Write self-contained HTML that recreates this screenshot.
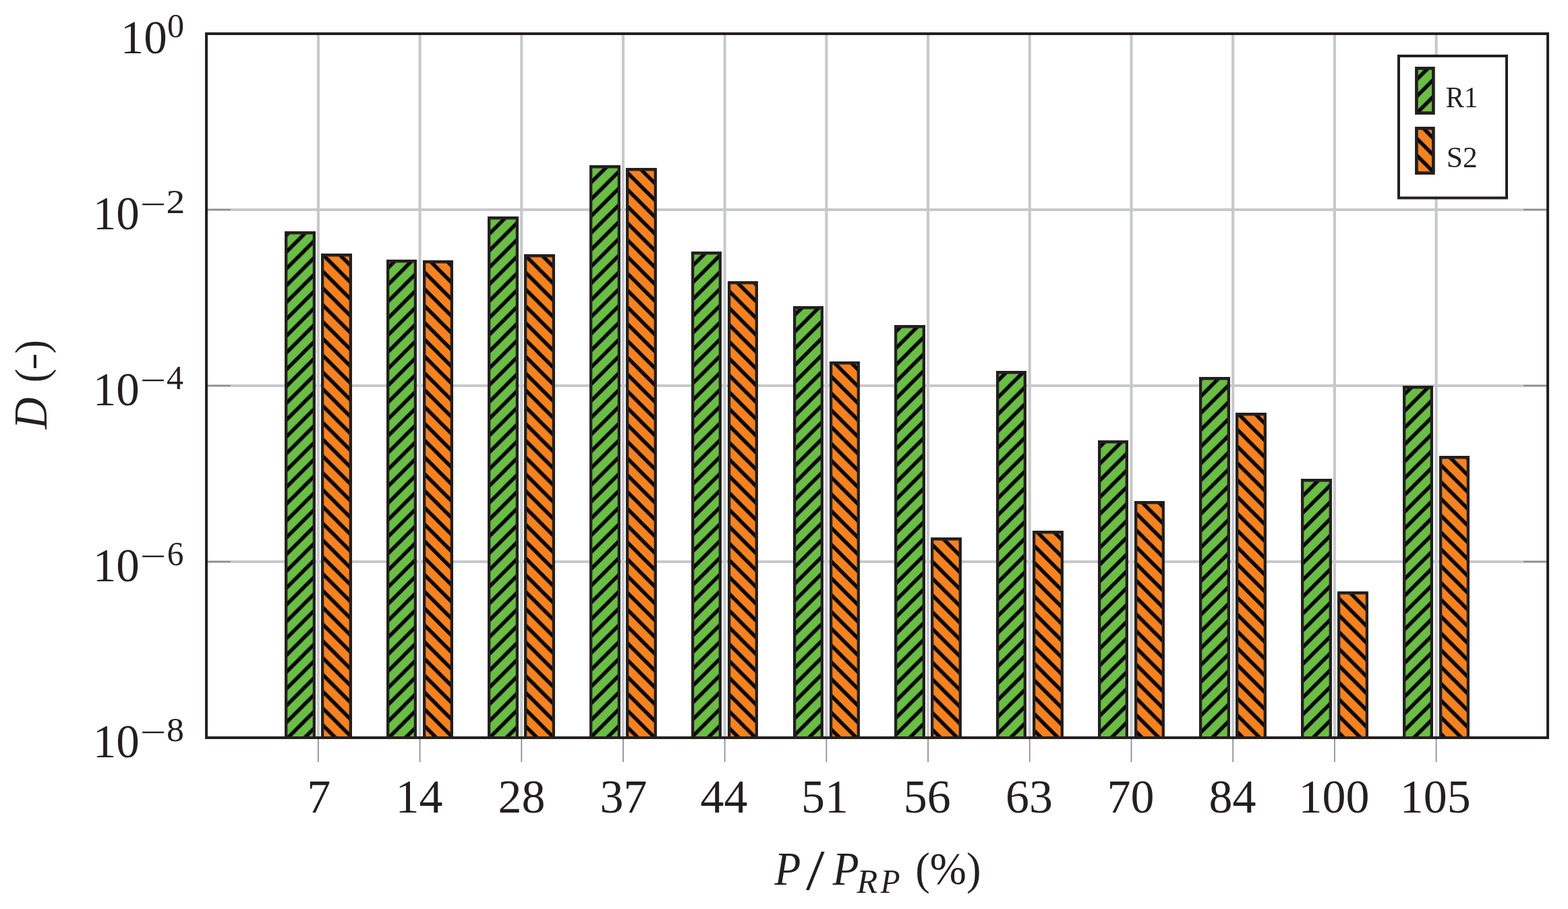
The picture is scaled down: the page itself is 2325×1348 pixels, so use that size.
<!DOCTYPE html>
<html lang="en"><head><meta charset="utf-8"><title>D versus P / P_RP</title>
<style>html,body{margin:0;padding:0;background:#fff}body{width:2325px;height:1348px;overflow:hidden}svg{display:block}text{font-family:"Liberation Serif","DejaVu Serif",serif;fill:#231f20}.it{font-style:italic}</style></head><body>
<svg width="2325" height="1348" viewBox="0 0 2325 1348">
<defs>
<pattern id="hg" patternUnits="userSpaceOnUse" x="1.100" y="-0.300" width="24.920" height="24.920">
<rect width="24.920" height="24.920" fill="#6abd45"/>
<path d="M-6.500 31.420 L31.420 -6.500 M-6.500 6.500 L6.500 -6.500 M18.420 31.420 L31.420 18.420" stroke="#050505" stroke-width="5.50" fill="none"/>
</pattern>
<pattern id="ho" patternUnits="userSpaceOnUse" x="1.100" y="-0.300" width="24.920" height="24.920">
<rect width="24.920" height="24.920" fill="#f58220"/>
<path d="M-6.500 -6.500 L31.420 31.420 M18.420 -6.500 L31.420 6.500 M-6.500 18.420 L6.500 31.420" stroke="#050505" stroke-width="5.50" fill="none"/>
</pattern>
</defs>
<rect width="2325" height="1348" fill="#fff"/>
<g stroke="#c7c8ca" stroke-width="4.1" fill="none">
<line x1="471.90" y1="50" x2="471.90" y2="1094"/>
<line x1="622.60" y1="50" x2="622.60" y2="1094"/>
<line x1="773.30" y1="50" x2="773.30" y2="1094"/>
<line x1="924.00" y1="50" x2="924.00" y2="1094"/>
<line x1="1074.70" y1="50" x2="1074.70" y2="1094"/>
<line x1="1225.40" y1="50" x2="1225.40" y2="1094"/>
<line x1="1376.10" y1="50" x2="1376.10" y2="1094"/>
<line x1="1526.80" y1="50" x2="1526.80" y2="1094"/>
<line x1="1677.50" y1="50" x2="1677.50" y2="1094"/>
<line x1="1828.20" y1="50" x2="1828.20" y2="1094"/>
<line x1="1978.90" y1="50" x2="1978.90" y2="1094"/>
<line x1="2129.60" y1="50" x2="2129.60" y2="1094"/>
<line x1="306" y1="311.00" x2="2295" y2="311.00"/>
<line x1="306" y1="572.00" x2="2295" y2="572.00"/>
<line x1="306" y1="833.00" x2="2295" y2="833.00"/>
</g>
<g stroke="#8e9093" stroke-width="1.8" fill="none">
<line x1="471.90" y1="1094" x2="471.90" y2="1130"/>
<line x1="622.60" y1="1094" x2="622.60" y2="1130"/>
<line x1="773.30" y1="1094" x2="773.30" y2="1130"/>
<line x1="924.00" y1="1094" x2="924.00" y2="1130"/>
<line x1="1074.70" y1="1094" x2="1074.70" y2="1130"/>
<line x1="1225.40" y1="1094" x2="1225.40" y2="1130"/>
<line x1="1376.10" y1="1094" x2="1376.10" y2="1130"/>
<line x1="1526.80" y1="1094" x2="1526.80" y2="1130"/>
<line x1="1677.50" y1="1094" x2="1677.50" y2="1130"/>
<line x1="1828.20" y1="1094" x2="1828.20" y2="1130"/>
<line x1="1978.90" y1="1094" x2="1978.90" y2="1130"/>
<line x1="2129.60" y1="1094" x2="2129.60" y2="1130"/>
<line x1="306" y1="311.00" x2="342" y2="311.00"/>
<line x1="2259" y1="311.00" x2="2295" y2="311.00"/>
<line x1="306" y1="572.00" x2="342" y2="572.00"/>
<line x1="2259" y1="572.00" x2="2295" y2="572.00"/>
<line x1="306" y1="833.00" x2="342" y2="833.00"/>
<line x1="2259" y1="833.00" x2="2295" y2="833.00"/>
</g>
<rect x="423.00" y="344.00" width="44.00" height="750.00" fill="url(#hg)"/>
<path fill="#231f20" d="M422.00 343.00H468.00V1094H463.70V347.60H426.30V1094H422.00Z"/>
<rect x="477.00" y="377.00" width="44.00" height="717.00" fill="url(#ho)"/>
<path fill="#231f20" d="M476.00 376.00H522.00V1094H517.70V380.60H480.30V1094H476.00Z"/>
<rect x="574.00" y="386.00" width="43.00" height="708.00" fill="url(#hg)"/>
<path fill="#231f20" d="M573.00 385.00H618.00V1094H613.70V389.60H577.30V1094H573.00Z"/>
<rect x="628.00" y="387.00" width="43.00" height="707.00" fill="url(#ho)"/>
<path fill="#231f20" d="M627.00 386.00H672.00V1094H667.70V390.60H631.30V1094H627.00Z"/>
<rect x="724.00" y="322.00" width="44.00" height="772.00" fill="url(#hg)"/>
<path fill="#231f20" d="M723.00 321.00H769.00V1094H764.70V325.60H727.30V1094H723.00Z"/>
<rect x="778.00" y="378.00" width="44.00" height="716.00" fill="url(#ho)"/>
<path fill="#231f20" d="M777.00 377.00H823.00V1094H818.70V381.60H781.30V1094H777.00Z"/>
<rect x="875.00" y="246.00" width="44.00" height="848.00" fill="url(#hg)"/>
<path fill="#231f20" d="M874.00 245.00H920.00V1094H915.70V249.60H878.30V1094H874.00Z"/>
<rect x="929.00" y="250.00" width="44.00" height="844.00" fill="url(#ho)"/>
<path fill="#231f20" d="M928.00 249.00H974.00V1094H969.70V253.60H932.30V1094H928.00Z"/>
<rect x="1026.00" y="374.00" width="43.00" height="720.00" fill="url(#hg)"/>
<path fill="#231f20" d="M1025.00 373.00H1070.00V1094H1065.70V377.60H1029.30V1094H1025.00Z"/>
<rect x="1080.00" y="418.00" width="43.00" height="676.00" fill="url(#ho)"/>
<path fill="#231f20" d="M1079.00 417.00H1124.00V1094H1119.70V421.60H1083.30V1094H1079.00Z"/>
<rect x="1177.00" y="455.00" width="43.00" height="639.00" fill="url(#hg)"/>
<path fill="#231f20" d="M1176.00 454.00H1221.00V1094H1216.70V458.60H1180.30V1094H1176.00Z"/>
<rect x="1231.00" y="537.00" width="43.00" height="557.00" fill="url(#ho)"/>
<path fill="#231f20" d="M1230.00 536.00H1275.00V1094H1270.70V540.60H1234.30V1094H1230.00Z"/>
<rect x="1327.00" y="483.00" width="44.00" height="611.00" fill="url(#hg)"/>
<path fill="#231f20" d="M1326.00 482.00H1372.00V1094H1367.70V486.60H1330.30V1094H1326.00Z"/>
<rect x="1381.00" y="798.00" width="44.00" height="296.00" fill="url(#ho)"/>
<path fill="#231f20" d="M1380.00 797.00H1426.00V1094H1421.70V801.60H1384.30V1094H1380.00Z"/>
<rect x="1478.00" y="551.00" width="43.00" height="543.00" fill="url(#hg)"/>
<path fill="#231f20" d="M1477.00 550.00H1522.00V1094H1517.70V554.60H1481.30V1094H1477.00Z"/>
<rect x="1532.00" y="788.00" width="44.00" height="306.00" fill="url(#ho)"/>
<path fill="#231f20" d="M1531.00 787.00H1577.00V1094H1572.70V791.60H1535.30V1094H1531.00Z"/>
<rect x="1629.00" y="654.00" width="43.00" height="440.00" fill="url(#hg)"/>
<path fill="#231f20" d="M1628.00 653.00H1673.00V1094H1668.70V657.60H1632.30V1094H1628.00Z"/>
<rect x="1683.00" y="744.00" width="43.00" height="350.00" fill="url(#ho)"/>
<path fill="#231f20" d="M1682.00 743.00H1727.00V1094H1722.70V747.60H1686.30V1094H1682.00Z"/>
<rect x="1779.00" y="560.00" width="44.00" height="534.00" fill="url(#hg)"/>
<path fill="#231f20" d="M1778.00 559.00H1824.00V1094H1819.70V563.60H1782.30V1094H1778.00Z"/>
<rect x="1833.00" y="613.00" width="44.00" height="481.00" fill="url(#ho)"/>
<path fill="#231f20" d="M1832.00 612.00H1878.00V1094H1873.70V616.60H1836.30V1094H1832.00Z"/>
<rect x="1930.00" y="711.00" width="44.00" height="383.00" fill="url(#hg)"/>
<path fill="#231f20" d="M1929.00 710.00H1975.00V1094H1970.70V714.60H1933.30V1094H1929.00Z"/>
<rect x="1984.00" y="878.00" width="44.00" height="216.00" fill="url(#ho)"/>
<path fill="#231f20" d="M1983.00 877.00H2029.00V1094H2024.70V881.60H1987.30V1094H1983.00Z"/>
<rect x="2081.00" y="573.00" width="43.00" height="521.00" fill="url(#hg)"/>
<path fill="#231f20" d="M2080.00 572.00H2125.00V1094H2120.70V576.60H2084.30V1094H2080.00Z"/>
<rect x="2135.00" y="677.00" width="43.00" height="417.00" fill="url(#ho)"/>
<path fill="#231f20" d="M2134.00 676.00H2179.00V1094H2174.70V680.60H2138.30V1094H2134.00Z"/>
<rect x="306" y="50" width="1989" height="1044" fill="none" stroke="#231f20" stroke-width="4"/>
<rect x="2074" y="83" width="160" height="210.5" fill="#fff" stroke="#231f20" stroke-width="4"/>
<rect x="2100.4" y="101.3" width="25" height="66.3" fill="url(#hg)" stroke="#231f20" stroke-width="4.7"/>
<rect x="2100.4" y="190.3" width="25" height="66.3" fill="url(#ho)" stroke="#231f20" stroke-width="4.7"/>
<text transform="translate(2143.80 159.00) scale(0.9270 1)" font-size="44">R1</text>
<text transform="translate(2144.80 247.70) scale(0.9890 1)" font-size="44">S2</text>
<text transform="translate(178.72 79.00) scale(0.9870 1)" font-size="70">10</text>
<text transform="translate(247.90 55.10) scale(0.9924 1)" font-size="50.5">0</text>
<text transform="translate(137.72 340.00) scale(0.9870 1)" font-size="70">10</text>
<text transform="translate(207.50 318.90) scale(1.4230 1)" font-size="48">−</text>
<text transform="translate(246.58 316.10) scale(1.1001 1)" font-size="50.5">2</text>
<text transform="translate(137.72 601.00) scale(0.9870 1)" font-size="70">10</text>
<text transform="translate(207.50 579.90) scale(1.4230 1)" font-size="48">−</text>
<text transform="translate(247.06 577.10) scale(0.9918 1)" font-size="50.5">4</text>
<text transform="translate(137.72 862.00) scale(0.9870 1)" font-size="70">10</text>
<text transform="translate(207.50 840.90) scale(1.4230 1)" font-size="48">−</text>
<text transform="translate(247.82 838.10) scale(0.9786 1)" font-size="50.5">6</text>
<text transform="translate(137.72 1123.00) scale(0.9870 1)" font-size="70">10</text>
<text transform="translate(207.50 1101.90) scale(1.4230 1)" font-size="48">−</text>
<text transform="translate(247.10 1099.10) scale(1.0265 1)" font-size="50.5">8</text>
<text transform="translate(472.80 1204.50)" font-size="70" text-anchor="middle">7</text>
<text transform="translate(621.40 1204.50)" font-size="70" text-anchor="middle">14</text>
<text transform="translate(773.50 1204.50)" font-size="70" text-anchor="middle">28</text>
<text transform="translate(924.60 1204.50)" font-size="70" text-anchor="middle">37</text>
<text transform="translate(1073.50 1204.50)" font-size="70" text-anchor="middle">44</text>
<text transform="translate(1223.00 1204.50)" font-size="70" text-anchor="middle">51</text>
<text transform="translate(1374.70 1204.50)" font-size="70" text-anchor="middle">56</text>
<text transform="translate(1526.10 1204.50)" font-size="70" text-anchor="middle">63</text>
<text transform="translate(1676.40 1204.50)" font-size="70" text-anchor="middle">70</text>
<text transform="translate(1827.40 1204.50)" font-size="70" text-anchor="middle">84</text>
<text transform="translate(1978.00 1204.50)" font-size="70" text-anchor="middle">100</text>
<text transform="translate(2128.30 1204.50)" font-size="70" text-anchor="middle">105</text>
<text transform="translate(1148.40 1311.70) scale(0.9100 1)" font-size="70" class="it">P</text>
<text transform="translate(1195.10 1318.50) scale(1.1770 1)" font-size="84.7">/</text>
<text transform="translate(1234.70 1311.70) scale(0.9100 1)" font-size="70" class="it">P</text>
<text transform="translate(1270.45 1323.80) scale(0.9770 1)" font-size="51.7" class="it">R</text>
<text transform="translate(1305.74 1323.80) scale(0.9130 1)" font-size="51.7" class="it">P</text>
<text transform="translate(1357.20 1311.30) scale(0.9570 1)" font-size="68">(%)</text>
<text transform="translate(69.00 636.25) rotate(-90) scale(0.9290 1)" font-size="70" class="it">D</text>
<text transform="translate(69.00 567.25) rotate(-90) scale(0.9000 1)" font-size="68">(</text>
<text transform="translate(64.80 548.80) rotate(-90) scale(1.4080 1)" font-size="54">-</text>
<text transform="translate(69.00 524.55) rotate(-90) scale(0.9050 1)" font-size="68">)</text>
</svg></body></html>
